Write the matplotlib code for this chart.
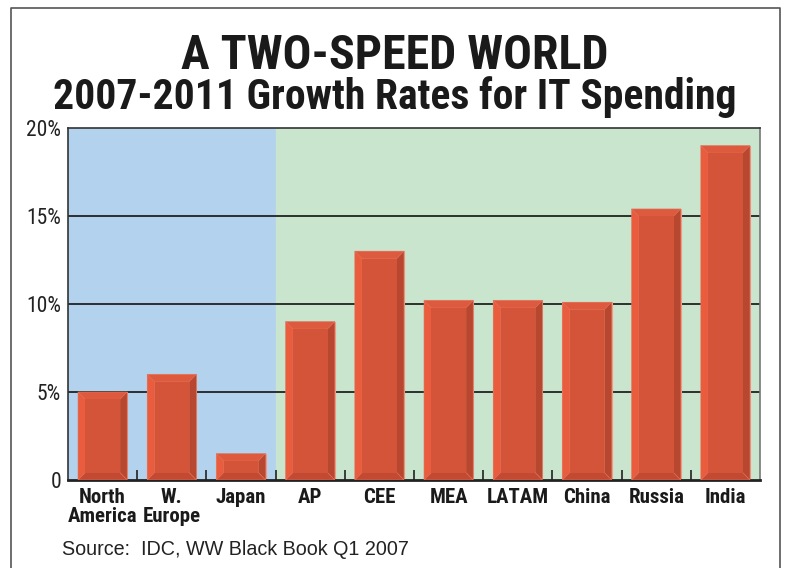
import numpy as np
import matplotlib.pyplot as plt
from matplotlib.patches import Polygon, Rectangle
from matplotlib import font_manager as fm

regions = ['North\nAmerica', 'W.\nEurope', 'Japan', 'AP', 'CEE', 'MEA', 'LATAM', 'China', 'Russia', 'India']
growth = [5.0, 6.0, 1.5, 9.0, 13.0, 10.2, 10.2, 10.1, 15.4, 19.0]
yticks = [0, 5, 10, 15, 20]
ylabels = ['0', '5%', '10%', '15%', '20%']
n_mature = 3  # North America, W. Europe, Japan

# condensed face for titles/labels, shrink sizes if it is missing
installed = {f.name for f in fm.fontManager.ttflist}
cond = ['Roboto Condensed', 'DejaVu Sans']
k = 1.0 if 'Roboto Condensed' in installed else 0.8
plain = ['Liberation Sans', 'DejaVu Sans']

fig = plt.figure(figsize=(7.89, 5.68), dpi=100)
ax = fig.add_axes([68/789, 1-480/568, 692/789, 352/568])

x = np.arange(len(growth))
ax.set_xlim(-0.5, len(growth) - 0.5)
ax.set_ylim(0, 20)

ax.axvspan(-0.5, n_mature - 0.5, color='#b3d2ee', zorder=0)
ax.axvspan(n_mature - 0.5, len(growth) - 0.5, color='#c9e5cd', zorder=0)
for g in yticks[1:-1]:
    ax.axhline(g, color='#222222', lw=1.3, zorder=1)

# bevelled bars
w = 0.355
dx = 0.105
dy = 0.42
ax.bar(x, growth, width=2*w, color='#d4543a', edgecolor='#ee9c88', lw=0.8, zorder=2)
for xi, v in zip(x, growth):
    x0, x1 = xi - w, xi + w
    sides = [
        ([(x0, 0), (x0, v), (x0+dx, v-dy), (x0+dx, dy)], '#e95c3d'),
        ([(x0, v), (x1, v), (x1-dx, v-dy), (x0+dx, v-dy)], '#de5a3e'),
        ([(x1, v), (x1, 0), (x1-dx, dy), (x1-dx, v-dy)], '#b8472f'),
        ([(x0, 0), (x1, 0), (x1-dx, dy), (x0+dx, dy)], '#c24a33'),
    ]
    for pts, c in sides:
        ax.add_patch(Polygon(pts, closed=True, facecolor=c, edgecolor='#e0745c', lw=0.4, zorder=3))
    ax.add_patch(Rectangle((x0+dx, dy), 2*(w-dx), v-2*dy, facecolor='#d4543a',
                           edgecolor='none', zorder=4))

ax.set_yticks(yticks)
ax.set_yticklabels(ylabels, family=cond, fontsize=15.5*k, color='#222222')
ax.tick_params(axis='y', length=0, pad=5)
ax.set_xticks(x)
ax.set_xticklabels(regions, family=cond, fontsize=15*k, fontweight='bold',
                   color='#1a1a1a', linespacing=1.0)
ax.tick_params(axis='x', length=0, pad=6)
ax.set_xticks(x[:-1] + 0.5, minor=True)
ax.tick_params(axis='x', which='minor', direction='in', length=7, width=1.2, color='#222222')

for s in ['left', 'top']:
    ax.spines[s].set_color('#333333')
    ax.spines[s].set_linewidth(1.2)
ax.spines['bottom'].set_color('#222222')
ax.spines['bottom'].set_linewidth(2)
ax.spines['right'].set_color('#777777')
ax.spines['right'].set_linewidth(1.2)

fig.text(0.5, 1-69/568, 'A TWO-SPEED WORLD', ha='center', va='baseline',
         family=cond, fontsize=34.5*k, fontweight='bold', color='#1a1a1a')
fig.text(0.5, 1-109/568, '2007-2011 Growth Rates for IT Spending', ha='center', va='baseline',
         family=cond, fontsize=30*k, fontweight='bold', color='#1a1a1a')
fig.text(62/789, 1-555/568, 'Source:  IDC, WW Black Book Q1 2007', ha='left', va='baseline',
         family=plain, fontsize=14.2, color='#222222')

# outer frame
fig.add_artist(plt.Line2D([11/789, 11/789, 780/789, 780/789],
                          [0, 1-8/568, 1-8/568, 0], color='#555555', lw=1.2))

fig.savefig('out.png', dpi=100, facecolor='white')
